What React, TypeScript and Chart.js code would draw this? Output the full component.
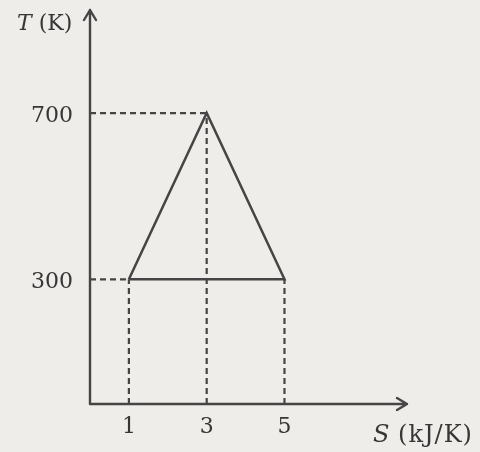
import React, { useEffect, useRef } from "react";
import Chart from "chart.js/auto";

// Cycle on the T-S diagram (closed path)
const cycleS: number[] = [1, 3, 5, 1];
const cycleT: number[] = [300, 700, 300, 300];

// Axis tick labels
const xTicks: number[] = [1, 3, 5];
const yTicks: number[] = [300, 700];

// Axis extents
const xMax = 8.15;
const yMax = 948;

const xTitle = ["S", " (kJ/K)"];
const yTitle = ["T", " (K)"];

const INK = "#454545";
const TEXT = "#363636";
const BG = "#eeede9";
const FONT = "DejaVu Serif";

export default function App() {
  const ref = useRef<HTMLCanvasElement | null>(null);

  useEffect(() => {
    document.body.style.margin = "0";
    const canvas = ref.current;
    if (!canvas) return;

    const cyclePts = cycleS.map((s, i) => ({ x: s, y: cycleT[i] }));

    // Dashed guides built from the cycle vertices
    const seen = new Set<string>();
    const guides: { x: number; y: number }[][] = [];
    const minSAtT: Record<number, number> = {};
    cyclePts.forEach((p) => {
      const k = p.x + "," + p.y;
      if (seen.has(k)) return;
      seen.add(k);
      guides.push([{ x: p.x, y: 0 }, { x: p.x, y: p.y }]);
      if (minSAtT[p.y] === undefined || p.x < minSAtT[p.y]) minSAtT[p.y] = p.x;
    });
    Object.keys(minSAtT).forEach((t) => {
      const T = Number(t);
      guides.push([{ x: 0, y: T }, { x: minSAtT[T], y: T }]);
    });

    const guideSets = guides.map((g) => ({
      data: g,
      showLine: true,
      borderColor: INK,
      borderWidth: 2.2,
      borderDash: [6, 4],
      pointRadius: 0,
      fill: false,
      order: 2,
    }));

    const axesPlugin = {
      id: "axesArrows",
      beforeDraw(chart: any) {
        const ctx = chart.ctx;
        ctx.save();
        ctx.fillStyle = BG;
        ctx.fillRect(0, 0, chart.width, chart.height);
        ctx.restore();
      },
      afterDraw(chart: any) {
        const ctx = chart.ctx;
        const xs = chart.scales.x;
        const ys = chart.scales.y;
        const ox = xs.getPixelForValue(0);
        const oy = ys.getPixelForValue(0);
        const xe = xs.getPixelForValue(xMax);
        const ye = ys.getPixelForValue(yMax);
        ctx.save();
        ctx.strokeStyle = INK;
        ctx.lineWidth = 2.4;
        ctx.lineCap = "round";
        ctx.lineJoin = "round";
        ctx.beginPath();
        ctx.moveTo(ox, oy);
        ctx.lineTo(ox, ye);
        ctx.moveTo(ox, oy);
        ctx.lineTo(xe, oy);
        // arrow heads
        ctx.moveTo(ox - 6, ye + 10);
        ctx.lineTo(ox, ye);
        ctx.lineTo(ox + 6, ye + 10);
        ctx.moveTo(xe - 10, oy - 6);
        ctx.lineTo(xe, oy);
        ctx.lineTo(xe - 10, oy + 6);
        ctx.stroke();

        ctx.fillStyle = TEXT;
        ctx.textBaseline = "middle";
        ctx.textAlign = "left";
        // y title
        ctx.font = `italic 22px "${FONT}"`;
        let x0 = 17;
        ctx.fillText(yTitle[0], x0, 24);
        x0 += ctx.measureText(yTitle[0]).width;
        ctx.font = `22px "${FONT}"`;
        ctx.fillText(yTitle[1], x0, 24);
        // x title
        ctx.font = `italic 24px "${FONT}"`;
        x0 = 373;
        ctx.fillText(xTitle[0], x0, 436);
        x0 += ctx.measureText(xTitle[0]).width;
        ctx.font = `24px "${FONT}"`;
        (ctx as any).letterSpacing = "1px";
        ctx.fillText(xTitle[1], x0, 436);
        ctx.restore();
      },
    };

    const chart = new Chart(canvas, {
      type: "scatter",
      data: {
        datasets: [
          ...guideSets,
          {
            data: cyclePts,
            showLine: true,
            borderColor: INK,
            borderWidth: 2.5,
            pointRadius: 0,
            fill: false,
            order: 1,
          } as any,
        ],
      },
      options: {
        animation: false,
        responsive: false,
        maintainAspectRatio: false,
        layout: { padding: { top: 10, right: 73, left: 0, bottom: 0 } },
        plugins: {
          legend: { display: false },
          tooltip: { enabled: false },
        },
        scales: {
          x: {
            type: "linear",
            min: 0,
            max: xMax,
            grid: { display: false, drawTicks: false },
            border: { display: false },
            afterBuildTicks: (s: any) => {
              s.ticks = xTicks.map((v) => ({ value: v }));
            },
            afterFit: (s: any) => {
              s.height = 48;
              s.paddingLeft = 0;
              s.paddingRight = 0;
            },
            ticks: {
              padding: 10,
              color: TEXT,
              font: { family: FONT, size: 22 },
              maxRotation: 0,
              autoSkip: false,
              callback: (v: any) => String(v),
            },
          },
          y: {
            type: "linear",
            min: 0,
            max: yMax,
            grid: { display: false, drawTicks: false },
            border: { display: false },
            afterBuildTicks: (s: any) => {
              s.ticks = yTicks.map((v) => ({ value: v }));
            },
            afterFit: (s: any) => {
              s.width = 90;
              s.paddingTop = 0;
              s.paddingBottom = 0;
            },
            ticks: {
              padding: 17,
              labelOffset: 3,
              color: TEXT,
              font: { family: FONT, size: 22 },
              autoSkip: false,
              callback: (v: any) => String(v),
            },
          },
        },
      },
      plugins: [axesPlugin],
    } as any);

    return () => chart.destroy();
  }, []);

  return (
    <div style={{ position: "absolute", left: 0, top: 0, width: 480, height: 452 }}>
      <canvas ref={ref} width={480} height={452} style={{ display: "block" }} />
    </div>
  );
}
